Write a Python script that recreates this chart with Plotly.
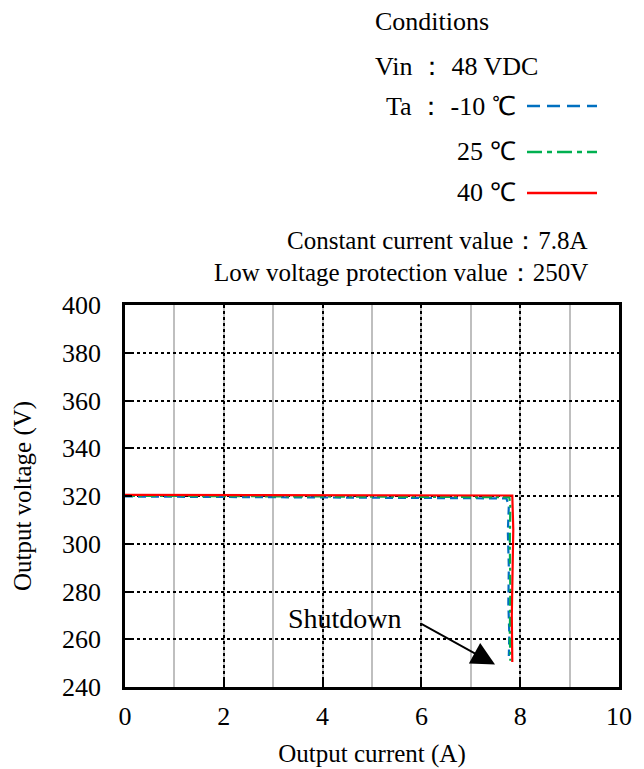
import plotly.graph_objects as go

# Output current (A) vs output voltage (V) at three ambient temperatures
current_m10 = [0, 1, 2, 3, 4, 5, 6, 7, 7.72, 7.77, 7.75, 7.77, 7.76, 7.78, 7.77]
voltage_m10 = [319.8, 319.7, 319.6, 319.6, 319.5, 319.4, 319.4, 319.3, 319.0, 316, 305, 290, 275, 262, 253]

current_25 = [0, 1, 2, 3, 4, 5, 6, 7, 7.78, 7.80, 7.79, 7.80, 7.79, 7.80]
voltage_25 = [320.1, 320.0, 320.0, 319.9, 319.9, 319.8, 319.8, 319.7, 319.5, 316, 300, 280, 262, 251]

current_40 = [0, 1, 2, 3, 4, 5, 6, 7, 7.84, 7.86, 7.85, 7.83, 7.84]
voltage_40 = [320.5, 320.5, 320.4, 320.4, 320.4, 320.3, 320.3, 320.3, 320.2, 306, 290, 270, 250.5]

x_ticks = [0, 2, 4, 6, 8, 10]
y_ticks = [240, 260, 280, 300, 320, 340, 360, 380, 400]

series_names = ["Ta ： -10 ℃", "25 ℃", "40 ℃"]
series_colors = ["#0070C0", "#00B050", "#FF0000"]
curve_dash = ["8px,5px", "10px,4px,3px,4px", "solid"]
sample_dash = ["13px,7px", "15px,5px,5px,5px", "solid"]

condition_lines = ["Conditions", "Vin ： 48 VDC"]
limit_lines = ["Constant current value：7.8A", "Low voltage protection value：250V"]

# Shutdown arrow: tail and tip in data units
shutdown_label = "Shutdown"
shutdown_text_at = (4.45, 268.5)
shutdown_tail = (5.97, 266.8)
shutdown_tip = (7.49, 249.4)

FONT = "Times New Roman, Liberation Serif, serif"
W, H = 644, 769
L, R, T, B = 125, 25, 305, 82
PW, PH = W - L - R, H - T - B


def px(x):
    return (x - L) / PW


def py(y):
    return (H - B - y) / PH


fig = go.Figure()
for xs, ys, name, col, dash in zip(
    [current_m10, current_25, current_40],
    [voltage_m10, voltage_25, voltage_40],
    series_names, series_colors, curve_dash,
):
    fig.add_trace(go.Scatter(x=xs, y=ys, mode="lines", name=name,
                             line=dict(color=col, width=2.2, dash=dash),
                             showlegend=False))

axis_common = dict(
    showline=True, mirror=True, linecolor="black", linewidth=2.5,
    ticks="inside", ticklen=7, tickcolor="black", tickwidth=2,
    showgrid=True, gridcolor="black", gridwidth=1.5, griddash="dot",
    zeroline=False, automargin=False,
)

fig.update_xaxes(range=[0, 10], tickvals=x_ticks, ticklabelstandoff=4,
                 tickfont=dict(family=FONT, size=26, color="black"),
                 minor=dict(dtick=1, tick0=0, showgrid=True, gridcolor="#BFBFBF",
                            gridwidth=2, griddash="solid", ticks=""),
                 title=dict(text="Output current (A)", standoff=15,
                            font=dict(family=FONT, size=25, color="black")),
                 **axis_common)
fig.update_yaxes(range=[240, 400], tickvals=y_ticks, ticklabelstandoff=16,
                 tickfont=dict(family=FONT, size=26, color="black"),
                 title=dict(text="Output voltage (V)", standoff=24,
                            font=dict(family=FONT, size=25, color="black")),
                 **axis_common)

annotations = []
# Conditions block
for txt, yc in zip(condition_lines, [21, 66]):
    annotations.append(dict(xref="paper", yref="paper", x=px(373), y=py(yc),
                            text=txt, showarrow=False, xanchor="left", yanchor="middle",
                            font=dict(family=FONT, size=26, color="black")))
# Temperature legend text + line samples
legend_y = [106, 152, 193]
shapes = []
for name, col, dash, yc in zip(series_names, series_colors, sample_dash, legend_y):
    annotations.append(dict(xref="paper", yref="paper", x=px(518), y=py(yc),
                            text=name, showarrow=False, xanchor="right", yanchor="middle",
                            font=dict(family=FONT, size=26, color="black")))
    shapes.append(dict(type="line", xref="paper", yref="paper",
                       x0=px(527), x1=px(597), y0=py(yc), y1=py(yc),
                       line=dict(color=col, width=2.4, dash=dash)))
# Limits
for txt, yc in zip(limit_lines, [240, 273]):
    annotations.append(dict(xref="paper", yref="paper", x=px(590), y=py(yc),
                            text=txt, showarrow=False, xanchor="right", yanchor="middle",
                            font=dict(family=FONT, size=25, color="black")))
# Shutdown marker
annotations.append(dict(x=shutdown_text_at[0], y=shutdown_text_at[1], xref="x", yref="y",
                        text=shutdown_label, showarrow=False,
                        font=dict(family=FONT, size=28, color="black")))
annotations.append(dict(x=shutdown_tip[0], y=shutdown_tip[1], xref="x", yref="y",
                        ax=shutdown_tail[0], ay=shutdown_tail[1], axref="x", ayref="y",
                        text="", showarrow=True, arrowhead=2, arrowsize=2.6,
                        arrowwidth=1.8, arrowcolor="black"))

fig.update_layout(
    width=W, height=H, margin=dict(l=L, r=R, t=T, b=B),
    paper_bgcolor="white", plot_bgcolor="white",
    annotations=annotations, shapes=shapes,
    font=dict(family=FONT, color="black"),
)

fig.write_html("out.html")
